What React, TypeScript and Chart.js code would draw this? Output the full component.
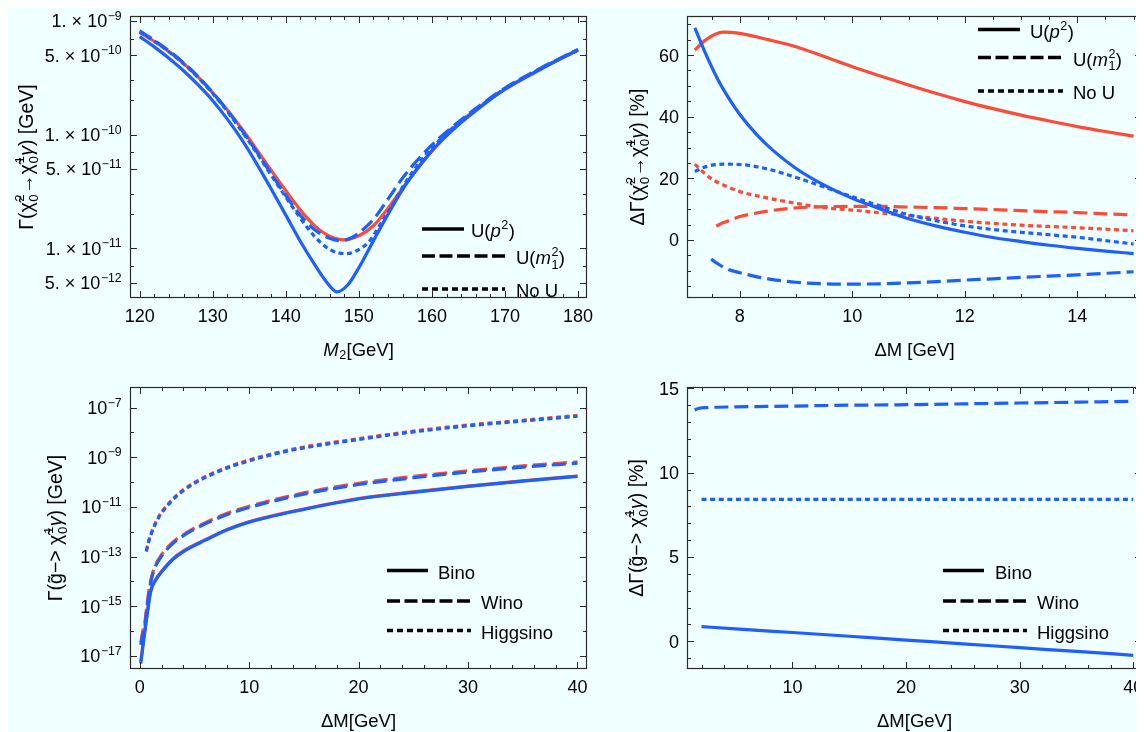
import React, { useEffect, useRef } from 'react';
import { Chart, registerables } from 'chart.js';

Chart.register(...registerables);

// ---------------- DATA ----------------
// Panel 1: Γ vs M2 (log)
const p1BlueSolidX = [120, 122, 124, 126, 128, 130, 132, 134, 136, 138, 140, 142, 144, 145.5, 147, 148.5, 150, 152, 154, 156, 158, 160, 163, 166, 170, 175, 180];
const p1BlueSolidY = [7.28e-10, 5.92e-10, 4.7e-10, 3.65e-10, 2.74e-10, 1.99e-10, 1.37e-10, 8.99e-11, 5.57e-11, 3.33e-11, 1.96e-11, 1.15e-11, 7.11e-12, 5.13e-12, 4.15e-12, 4.79e-12, 6.76e-12, 1.17e-11, 2.0e-11, 3.31e-11, 5.01e-11, 7.24e-11, 1.12e-10, 1.62e-10, 2.51e-10, 3.8e-10, 5.56e-10];
const p1RedSolidX = [120, 122, 124, 126, 128, 130, 132, 134, 136, 138, 140, 142, 144, 146, 148, 150, 152, 154, 156, 158, 160, 163, 166, 170, 175, 180];
const p1RedSolidY = [7.94e-10, 6.61e-10, 5.37e-10, 4.23e-10, 3.21e-10, 2.34e-10, 1.65e-10, 1.12e-10, 7.41e-11, 4.85e-11, 3.21e-11, 2.17e-11, 1.57e-11, 1.28e-11, 1.19e-11, 1.29e-11, 1.58e-11, 2.26e-11, 3.39e-11, 5.01e-11, 7.16e-11, 1.15e-10, 1.66e-10, 2.51e-10, 3.8e-10, 5.56e-10];
const p1BlueDashedX = [120, 122, 124, 126, 128, 130, 132, 134, 136, 138, 140, 142, 144, 146, 147.5, 149, 150.5, 152, 154, 156, 158, 160, 163, 166, 170, 175, 180];
const p1BlueDashedY = [8.17e-10, 6.76e-10, 5.47e-10, 4.29e-10, 3.24e-10, 2.34e-10, 1.63e-10, 1.09e-10, 7.08e-11, 4.52e-11, 2.92e-11, 1.95e-11, 1.45e-11, 1.23e-11, 1.17e-11, 1.24e-11, 1.45e-11, 1.8e-11, 2.72e-11, 4.17e-11, 5.96e-11, 8.13e-11, 1.2e-10, 1.7e-10, 2.57e-10, 3.89e-10, 5.62e-10];
const p1BlueDottedX = [120, 122, 124, 126, 128, 130, 132, 134, 136, 138, 140, 142, 144, 146, 148.3, 150, 151.5, 153, 154.5, 156, 158, 160, 163, 166, 170, 175, 180];
const p1BlueDottedY = [8.0e-10, 6.64e-10, 5.37e-10, 4.21e-10, 3.18e-10, 2.3e-10, 1.6e-10, 1.07e-10, 6.92e-11, 4.4e-11, 2.82e-11, 1.84e-11, 1.26e-11, 9.77e-12, 8.99e-12, 9.77e-12, 1.17e-11, 1.66e-11, 2.34e-11, 3.47e-11, 5.37e-11, 7.67e-11, 1.17e-10, 1.66e-10, 2.54e-10, 3.85e-10, 5.58e-10];
const p1XTicks = [120, 130, 140, 150, 160, 170, 180];
const p1YTickVals = [1e-9, 5e-10, 1e-10, 5e-11, 1e-11, 5e-12];
const p1YTickMant = ['1.', '5.', '1.', '5.', '1.', '5.'];
const p1YTickExp = ['−9', '−10', '−10', '−11', '−11', '−12'];
const p1YMinor = [7e-10, 3e-10, 2e-10, 7e-11, 3e-11, 2e-11, 7e-12];

// Panel 2: ΔΓ [%] vs ΔM
const p2RedSolidX = [7.2, 7.4, 7.7, 8, 8.5, 9, 9.5, 10, 10.5, 11, 11.5, 12, 12.5, 13, 13.5, 14, 14.5, 15];
const p2RedSolidY = [61.6, 65, 67.4, 67, 65, 62.7, 59.5, 56.2, 53.2, 50.3, 47.5, 44.9, 42.6, 40.5, 38.6, 36.8, 35.2, 33.7];
const p2BlueSolidX = [7.2, 7.4, 7.6, 7.8, 8, 8.3, 8.6, 9, 9.5, 10, 10.5, 11, 11.5, 12, 12.5, 13, 13.5, 14, 14.5, 15];
const p2BlueSolidY = [68.8, 60.1, 52.4, 46.1, 40.7, 34.2, 28.9, 23.2, 17.8, 13.5, 10.1, 6.9, 4.5, 2.5, 0.8, -0.5, -1.7, -2.7, -3.6, -4.4];
const p2RedDashedX = [7.58, 7.7, 7.85, 8, 8.25, 8.5, 9, 9.5, 10, 10.5, 11, 11.5, 12, 12.5, 13, 13.5, 14, 14.5, 15];
const p2RedDashedY = [4.5, 5.6, 6.6, 7.6, 8.6, 9.4, 10.4, 10.8, 10.9, 10.9, 10.7, 10.5, 10.2, 9.9, 9.5, 9.2, 8.9, 8.5, 8.1];
const p2BlueDashedX = [7.49, 7.6, 7.75, 8, 8.25, 8.5, 9, 9.5, 10, 10.5, 11, 11.5, 12, 12.5, 13, 13.5, 14, 14.5, 15];
const p2BlueDashedY = [-6.2, -7.6, -9.2, -10.6, -11.7, -12.6, -13.7, -14.2, -14.3, -14.2, -13.9, -13.5, -13.0, -12.6, -12.1, -11.7, -11.3, -10.8, -10.3];
const p2RedDottedX = [7.2, 7.35, 7.5, 7.75, 8, 8.5, 9, 9.5, 10, 10.5, 11, 11.5, 12, 12.5, 13, 13.5, 14, 14.5, 15];
const p2RedDottedY = [24.6, 22, 19.8, 17.5, 15.7, 13.6, 11.9, 10.5, 9.7, 8.8, 7.9, 7, 6.1, 5.4, 4.8, 4.4, 4.0, 3.5, 3.0];
const p2BlueDottedX = [7.2, 7.4, 7.7, 8, 8.5, 9, 9.5, 10, 10.5, 11, 11.5, 12, 12.5, 13, 13.5, 14, 14.5, 15];
const p2BlueDottedY = [22.2, 23.8, 24.6, 24.5, 23, 20.3, 17.2, 14, 11, 8.2, 6.2, 4.6, 3.4, 2.5, 1.7, 0.9, -0.2, -1.3];
const p2XTicks = [8, 10, 12, 14];
const p2YTicks = [0, 20, 40, 60];

// Panel 3: Γ(g̃ -> χ̃ γ) (log) vs ΔM
const p3BinoX = [0.1, 0.4, 0.7, 1, 1.5, 2, 3, 4, 6, 8, 10, 15, 20, 25, 30, 35, 40];
const p3BinoBlueY = [5e-18, 5.7e-17, 5.2e-16, 3.8e-15, 1.2e-14, 2.4e-14, 7.5e-14, 1.6e-13, 4.6e-13, 1.2e-12, 2.45e-12, 8e-12, 2.1e-11, 3.9e-11, 6.7e-11, 1.1e-10, 1.7e-10];
const p3BinoRedY = [6e-18, 6.5e-17, 6e-16, 4.2e-15, 1.3e-14, 2.6e-14, 8e-14, 1.7e-13, 4.8e-13, 1.25e-12, 2.55e-12, 8.3e-12, 2.2e-11, 4.05e-11, 6.9e-11, 1.13e-10, 1.75e-10];
const p3WinoX = [0.1, 0.3, 0.45, 0.7, 0.9, 1.25, 2, 3, 4, 6, 8, 10, 15, 20, 25, 30, 35, 40];
const p3WinoBlueY = [2.8e-17, 8e-17, 1.4e-16, 1.2e-15, 5.2e-15, 2.4e-14, 1.05e-13, 3.3e-13, 7e-13, 2.1e-12, 5e-12, 9.5e-12, 3.3e-11, 8e-11, 1.5e-10, 2.55e-10, 4e-10, 5.8e-10];
const p3WinoRedY = [3.5e-17, 1.1e-16, 2e-16, 1.5e-15, 6.2e-15, 2.8e-14, 1.2e-13, 3.7e-13, 7.8e-13, 2.35e-12, 5.6e-12, 1.07e-11, 3.7e-11, 9e-11, 1.7e-10, 2.85e-10, 4.5e-10, 6.5e-10];
const p3HiggsX = [0.6, 0.8, 1, 1.5, 2, 3, 4, 5, 6, 8, 10, 12, 15, 20, 25, 30, 35, 40];
const p3HiggsBlueY = [1.6e-13, 3.7e-13, 7e-13, 2.4e-12, 5.7e-12, 1.9e-11, 4.6e-11, 9e-11, 1.55e-10, 3.7e-10, 7.2e-10, 1.25e-9, 2.4e-9, 5.2e-9, 1.05e-8, 1.85e-8, 2.9e-8, 4.5e-8];
const p3HiggsRedY = [1.75e-13, 4e-13, 7.6e-13, 2.6e-12, 6.2e-12, 2.05e-11, 5e-11, 9.7e-11, 1.68e-10, 4e-10, 7.8e-10, 1.35e-9, 2.6e-9, 5.6e-9, 1.13e-8, 2e-8, 3.1e-8, 4.85e-8];
const p3XTicks = [0, 10, 20, 30, 40];
const p3YTickExp = [-7, -9, -11, -13, -15, -17];
const p3YMinorExp = [-8, -10, -12, -14, -16];

// Panel 4: ΔΓ [%] vs ΔM
const p4BinoX = [2, 5, 10, 15, 20, 25, 30, 35, 40];
const p4BinoY = [0.87, 0.74, 0.52, 0.3, 0.07, -0.15, -0.38, -0.6, -0.83];
const p4WinoX = [1.4, 1.8, 2.5, 5, 10, 15, 20, 25, 30, 35, 40];
const p4WinoY = [13.72, 13.82, 13.86, 13.9, 13.95, 14.0, 14.03, 14.08, 14.13, 14.18, 14.23];
const p4HiggsX = [2, 10, 20, 30, 40];
const p4HiggsY = [8.42, 8.42, 8.42, 8.42, 8.42];
const p4XTicks = [10, 20, 30, 40];
const p4YTicks = [0, 5, 10, 15];

// ---------------- STYLE / LAYOUT ----------------
const W = 1136;
const H = 724;
const OFF = 8; // body margin
const FONT = '"Liberation Sans", Arial, Helvetica, sans-serif';
const BLUE = '#1f5eff';
const RED = '#ff4a35';
const FRAME = '#2a2a2a';
const BG = '#f0ffff';
const DASH = [14, 6];
const DOT = [5, 3.6];
const LW = 3.2;
const TICK_FS = 18;
const XTITLE_FS = 18.5;
const YTITLE_FS = 19.5;
const LEG_FS = 18.5;

type Seg = [string, string, string?];

function fontStr(size: number, italic = false) {
  return `${italic ? 'italic ' : ''}${size}px ${FONT}`;
}
function segW(ctx: CanvasRenderingContext2D, s: Seg, size: number) {
  const k = s[0];
  if (k === 'n' || k === 'i') {
    ctx.font = fontStr(size, k === 'i');
    return ctx.measureText(s[1]).width;
  }
  ctx.font = fontStr(size * 0.68);
  if (k === 'sup' || k === 'sub') return ctx.measureText(s[1]).width + size * 0.05;
  return Math.max(ctx.measureText(s[1]).width, ctx.measureText(s[2] || '').width) + size * 0.05;
}
function richW(ctx: CanvasRenderingContext2D, segs: Seg[], size: number) {
  let w = 0;
  for (const s of segs) w += segW(ctx, s, size);
  return w;
}
function drawRich(ctx: CanvasRenderingContext2D, segs: Seg[], x: number, cy: number, size: number, align: 'left' | 'center' | 'right') {
  const w = richW(ctx, segs, size);
  let cx = align === 'left' ? x : align === 'right' ? x - w : x - w / 2;
  const base = cy + size * 0.36;
  ctx.textBaseline = 'alphabetic';
  ctx.textAlign = 'left';
  for (const s of segs) {
    const k = s[0];
    const adv = segW(ctx, s, size);
    if (k === 'n' || k === 'i') {
      ctx.font = fontStr(size, k === 'i');
      ctx.fillText(s[1], cx, base);
    } else {
      ctx.font = fontStr(size * 0.68);
      if (k === 'sup') ctx.fillText(s[1], cx + size * 0.03, base - size * 0.42);
      else if (k === 'sub') ctx.fillText(s[1], cx + size * 0.03, base + size * 0.2);
      else {
        ctx.fillText(s[1], cx + size * 0.03, base - size * 0.44);
        ctx.fillText(s[2] || '', cx + size * 0.03, base + size * 0.24);
      }
    }
    cx += adv;
  }
}

const CHI = 'χ\u0303';
const GT = 'g\u0303';

function pts(xs: number[], ys: number[]) {
  return xs.map((x, i) => ({ x, y: ys[i] }));
}
function ds(xs: number[], ys: number[], color: string, dash: number[], order: number) {
  return {
    data: pts(xs, ys),
    borderColor: color,
    borderWidth: LW,
    borderDash: dash,
    borderCapStyle: 'butt',
    pointRadius: 0,
    fill: false,
    cubicInterpolationMode: 'monotone',
    order,
  };
}
function range(a: number, b: number, step: number, skip: number[] = []) {
  const out: number[] = [];
  for (let v = a; v <= b + 1e-9; v += step) {
    const r = Math.round(v * 1000) / 1000;
    if (!skip.some((s) => Math.abs(s - r) < 1e-9)) out.push(r);
  }
  return out;
}

type Panel = {
  area: { l: number; t: number; r: number; b: number };
  xType: 'linear';
  yType: 'linear' | 'logarithmic';
  xMin: number; xMax: number; yMin: number; yMax: number;
  xMajor: number[]; xMinor: number[]; xLabels: Seg[][];
  yMajor: number[]; yMinor: number[]; yLabels: Seg[][];
  datasets: any[];
  xTitle: Seg[]; yTitle: Seg[]; yTitleX: number;
  legend: { x0: number; rows: { y: number; x1: number; tx: number; dash: number[]; label: Seg[] }[] };
};

const p1: Panel = {
  area: { l: 130, t: 16, r: 587, b: 298 },
  xType: 'linear', yType: 'logarithmic',
  xMin: 118.67, xMax: 181.23, yMin: 3.66e-12, yMax: 1.106e-9,
  xMajor: p1XTicks, xMinor: range(122, 178, 2, p1XTicks), xLabels: p1XTicks.map((v) => [['n', String(v)]] as Seg[]),
  yMajor: p1YTickVals, yMinor: p1YMinor,
  yLabels: p1YTickVals.map((_, i) => [['n', p1YTickMant[i] + ' × 10'], ['sup', p1YTickExp[i]]] as Seg[]),
  datasets: [
    ds(p1RedSolidX, p1RedSolidY, RED, [], 2),
    ds(p1BlueSolidX, p1BlueSolidY, BLUE, [], 1),
    ds(p1BlueDottedX, p1BlueDottedY, BLUE, DOT, 0),
    ds(p1BlueDashedX, p1BlueDashedY, BLUE, DASH, 0),
  ],
  xTitle: [['i', 'M'], ['sub', '2'], ['n', '[GeV]']],
  yTitle: [['n', 'Γ('], ['n', CHI], ['ss', '2', '0'], ['n', '→'], ['n', CHI], ['ss', '1', '0'], ['i', 'γ'], ['n', ') [GeV]']],
  yTitleX: 26,
  legend: {
    x0: 422,
    rows: [
      { y: 229, x1: 464, tx: 471, dash: [], label: [['n', 'U('], ['i', 'p'], ['sup', '2'], ['n', ')']] },
      { y: 256, x1: 505, tx: 516, dash: [13, 4.5], label: [['n', 'U('], ['i', 'm'], ['ss', '2', '1'], ['n', ')']] },
      { y: 289, x1: 505, tx: 516, dash: [6, 4], label: [['n', 'No U']] },
    ],
  },
};

const p2: Panel = {
  area: { l: 687, t: 16, r: 1142, b: 298 },
  xType: 'linear', yType: 'linear',
  xMin: 7.061, xMax: 15.15, yMin: -18.81, yMax: 72.66,
  xMajor: p2XTicks, xMinor: range(7.5, 15, 0.5, p2XTicks), xLabels: p2XTicks.map((v) => [['n', String(v)]] as Seg[]),
  yMajor: p2YTicks, yMinor: range(-15, 70, 5, p2YTicks), yLabels: p2YTicks.map((v) => [['n', String(v)]] as Seg[]),
  datasets: [
    ds(p2RedSolidX, p2RedSolidY, RED, [], 1),
    ds(p2RedDashedX, p2RedDashedY, RED, DASH, 1),
    ds(p2RedDottedX, p2RedDottedY, RED, DOT, 1),
    ds(p2BlueSolidX, p2BlueSolidY, BLUE, [], 0),
    ds(p2BlueDashedX, p2BlueDashedY, BLUE, DASH, 0),
    ds(p2BlueDottedX, p2BlueDottedY, BLUE, DOT, 0),
  ],
  xTitle: [['n', 'ΔM [GeV]']],
  yTitle: [['n', 'ΔΓ('], ['n', CHI], ['ss', '2', '0'], ['n', '→'], ['n', CHI], ['ss', '1', '0'], ['i', 'γ'], ['n', ') [%]']],
  yTitleX: 637,
  legend: {
    x0: 978,
    rows: [
      { y: 29.5, x1: 1020, tx: 1030, dash: [], label: [['n', 'U('], ['i', 'p'], ['sup', '2'], ['n', ')']] },
      { y: 57.5, x1: 1063, tx: 1073, dash: [13, 4.5], label: [['n', 'U('], ['i', 'm'], ['ss', '2', '1'], ['n', ')']] },
      { y: 91, x1: 1063, tx: 1073, dash: [6, 4], label: [['n', 'No U']] },
    ],
  },
};

const p3: Panel = {
  area: { l: 130, t: 387, r: 587, b: 669 },
  xType: 'linear', yType: 'logarithmic',
  xMin: -0.886, xMax: 40.87, yMin: 3.3e-18, yMax: 6.76e-7,
  xMajor: p3XTicks, xMinor: range(2, 38, 2, p3XTicks), xLabels: p3XTicks.map((v) => [['n', String(v)]] as Seg[]),
  yMajor: p3YTickExp.map((e) => Math.pow(10, e)), yMinor: p3YMinorExp.map((e) => Math.pow(10, e)),
  yLabels: p3YTickExp.map((e) => [['n', '10'], ['sup', '−' + String(-e)]] as Seg[]),
  datasets: [
    ds(p3BinoX, p3BinoRedY, RED, [], 1),
    ds(p3WinoX, p3WinoRedY, RED, DASH, 1),
    ds(p3HiggsX, p3HiggsRedY, RED, DOT, 1),
    ds(p3BinoX, p3BinoBlueY, BLUE, [], 0),
    ds(p3WinoX, p3WinoBlueY, BLUE, DASH, 0),
    ds(p3HiggsX, p3HiggsBlueY, BLUE, DOT, 0),
  ],
  xTitle: [['n', 'ΔM[GeV]']],
  yTitle: [['n', 'Γ('], ['n', GT], ['n', '−> '], ['n', CHI], ['ss', '1', '0'], ['i', 'γ'], ['n', ') [GeV]']],
  yTitleX: 55,
  legend: {
    x0: 387,
    rows: [
      { y: 570.5, x1: 428, tx: 438, dash: [], label: [['n', 'Bino']] },
      { y: 601, x1: 471, tx: 481, dash: [13, 4.5], label: [['n', 'Wino']] },
      { y: 630.5, x1: 471, tx: 481, dash: [6, 4], label: [['n', 'Higgsino']] },
    ],
  },
};

const p4: Panel = {
  area: { l: 687, t: 387, r: 1142, b: 669 },
  xType: 'linear', yType: 'linear',
  xMin: 0.722, xMax: 40.77, yMin: -1.643, yMax: 15.08,
  xMajor: p4XTicks, xMinor: range(2, 38, 2, p4XTicks), xLabels: p4XTicks.map((v) => [['n', String(v)]] as Seg[]),
  yMajor: p4YTicks, yMinor: range(-1, 14, 1, p4YTicks), yLabels: p4YTicks.map((v) => [['n', String(v)]] as Seg[]),
  datasets: [
    ds(p4BinoX, p4BinoY, BLUE, [], 0),
    ds(p4WinoX, p4WinoY, BLUE, DASH, 0),
    ds(p4HiggsX, p4HiggsY, BLUE, DOT, 0),
  ],
  xTitle: [['n', 'ΔM[GeV]']],
  yTitle: [['n', 'ΔΓ('], ['n', GT], ['n', '−> '], ['n', CHI], ['ss', '1', '0'], ['i', 'γ'], ['n', ') [%]']],
  yTitleX: 636,
  legend: {
    x0: 943,
    rows: [
      { y: 570.5, x1: 984, tx: 995, dash: [], label: [['n', 'Bino']] },
      { y: 601, x1: 1027, tx: 1037, dash: [13, 4.5], label: [['n', 'Wino']] },
      { y: 630.5, x1: 1027, tx: 1037, dash: [6, 4], label: [['n', 'Higgsino']] },
    ],
  },
};

const PANELS = [p1, p2, p3, p4];

function framePlugin(p: Panel) {
  return {
    id: 'mmaFrame',
    afterDatasetsDraw(chart: any) {
      const ctx: CanvasRenderingContext2D = chart.ctx;
      const { left, right, top, bottom } = chart.chartArea;
      const xs = chart.scales.x;
      const ys = chart.scales.y;
      ctx.save();
      // frame
      ctx.strokeStyle = FRAME;
      ctx.lineWidth = 1.2;
      ctx.setLineDash([]);
      ctx.strokeRect(Math.round(left) + 0.5, Math.round(top) + 0.5, Math.round(right - left) - 1, Math.round(bottom - top) - 1);
      // ticks
      const MAJ = 7;
      const MIN = 4;
      ctx.lineWidth = 1;
      ctx.beginPath();
      const xt = (v: number, len: number) => {
        const px = Math.round(xs.getPixelForValue(v)) + 0.5;
        ctx.moveTo(px, bottom); ctx.lineTo(px, bottom - len);
        ctx.moveTo(px, top); ctx.lineTo(px, top + len);
      };
      const yt = (v: number, len: number) => {
        const py = Math.round(ys.getPixelForValue(v)) + 0.5;
        ctx.moveTo(left, py); ctx.lineTo(left + len, py);
        ctx.moveTo(right, py); ctx.lineTo(right - len, py);
      };
      p.xMajor.forEach((v) => xt(v, MAJ));
      p.xMinor.forEach((v) => xt(v, MIN));
      p.yMajor.forEach((v) => yt(v, MAJ));
      p.yMinor.forEach((v) => yt(v, MIN));
      ctx.stroke();
      // tick labels
      ctx.fillStyle = '#000';
      p.xMajor.forEach((v, i) => {
        drawRich(ctx, p.xLabels[i], xs.getPixelForValue(v), bottom + 18, TICK_FS, 'center');
      });
      p.yMajor.forEach((v, i) => {
        drawRich(ctx, p.yLabels[i], left - 8, ys.getPixelForValue(v), TICK_FS, 'right');
      });
      // axis titles
      drawRich(ctx, p.xTitle, (left + right) / 2, bottom + 51, XTITLE_FS, 'center');
      ctx.save();
      ctx.translate(p.yTitleX - OFF, (top + bottom) / 2);
      ctx.rotate(-Math.PI / 2);
      drawRich(ctx, p.yTitle, 0, 0, YTITLE_FS, 'center');
      ctx.restore();
      // legend
      ctx.strokeStyle = '#000';
      ctx.lineWidth = 3.6;
      ctx.lineCap = 'butt';
      p.legend.rows.forEach((r) => {
        ctx.setLineDash(r.dash);
        ctx.beginPath();
        ctx.moveTo(p.legend.x0 - OFF, r.y - OFF);
        ctx.lineTo(r.x1 - OFF, r.y - OFF);
        ctx.stroke();
        drawRich(ctx, r.label, r.tx - OFF, r.y - OFF + 1.5, LEG_FS, 'left');
      });
      ctx.setLineDash([]);
      ctx.restore();
    },
  };
}

function PanelChart({ p }: { p: Panel }) {
  const ref = useRef<HTMLCanvasElement | null>(null);
  useEffect(() => {
    if (!ref.current) return;
    const a = p.area;
    const chart = new Chart(ref.current, {
      type: 'line',
      data: { datasets: p.datasets },
      options: {
        animation: false,
        responsive: false,
        maintainAspectRatio: false,
        devicePixelRatio: 1,
        events: [],
        layout: {
          padding: { left: a.l - OFF, top: a.t - OFF, right: W - (a.r - OFF), bottom: H - (a.b - OFF) },
        },
        plugins: { legend: { display: false }, tooltip: { enabled: false }, title: { display: false } },
        elements: { point: { radius: 0 } },
        scales: {
          x: { type: p.xType, display: false, min: p.xMin, max: p.xMax },
          y: { type: p.yType, display: false, min: p.yMin, max: p.yMax },
        },
      } as any,
      plugins: [framePlugin(p)],
    });
    return () => chart.destroy();
  }, [p]);
  return (
    <canvas
      ref={ref}
      width={W}
      height={H}
      style={{ position: 'absolute', left: 0, top: 0, width: W, height: H }}
    />
  );
}

export default function App() {
  return (
    <div style={{ position: 'relative', width: W, height: H, background: BG, overflow: 'hidden' }}>
      {PANELS.map((p, i) => (
        <PanelChart key={i} p={p} />
      ))}
    </div>
  );
}
